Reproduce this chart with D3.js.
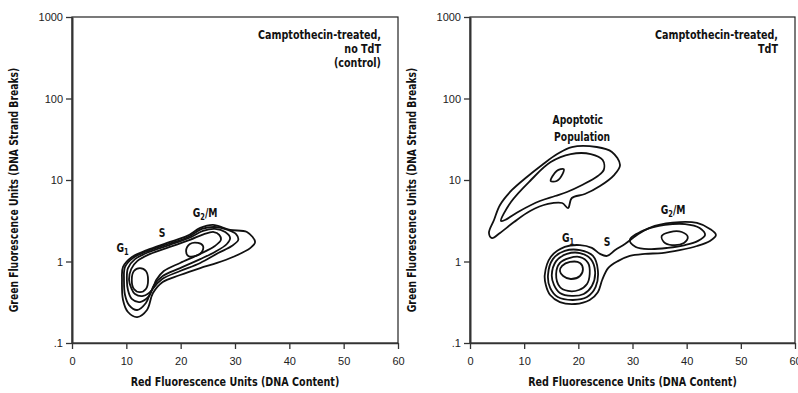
<!DOCTYPE html>
<html>
<head>
<meta charset="utf-8">
<script src="https://cdn.jsdelivr.net/npm/d3@7"></script>
<style>
  body { margin: 0; background: #fff; }
  svg { display: block; }
  .tick text { font-family: "Liberation Sans", Arial, sans-serif; font-size: 11px; fill: #222; }
  .bold { font-family: "Liberation Sans Narrow", "DejaVu Sans Condensed", sans-serif; font-weight: bold; fill: #111; }
</style>
</head>
<body>
<svg id="chart" width="798" height="393"></svg>
<script>
// axes
const xTicks = [0, 10, 20, 30, 40, 50, 60];
const yTicks = [0.1, 1, 10, 100, 1000];
const yTickLabels = [".1", "1", "10", "100", "1000"];
const xTitle = "Red Fluorescence Units (DNA Content)";
const yTitle = "Green Fluorescence Units (DNA Strand Breaks)";

// left panel contours, [red, green]
const controlOuter = [[9.2,0.59],[9.39,0.857],[11.04,1.135],[13.8,1.38],[17.5,1.69],[21.2,2.06],[23.6,2.58],[25.95,2.81],[29.1,2.44],[32.2,2.3],[33.7,1.73],[32.8,1.46],[29.6,1.135],[26.7,0.96],[23.6,0.83],[19.9,0.683],[16.7,0.56],[14.9,0.41],[13.8,0.254],[12.0,0.208],[10.3,0.24],[9.39,0.337]];
const controlRing2 = [[9.57,0.593],[9.76,0.857],[11.2,1.1],[14.0,1.35],[17.7,1.64],[21.4,2.0],[23.9,2.51],[26.3,2.65],[28.7,2.44],[30.2,2.17],[30.6,1.84],[29.4,1.55],[26.9,1.27],[23.6,0.96],[19.9,0.764],[16.6,0.61],[14.7,0.447],[13.6,0.31],[12.0,0.254],[10.5,0.292],[9.76,0.388]];
const controlRing3 = [[10.1,0.593],[10.3,0.83],[11.6,1.07],[14.2,1.31],[17.9,1.59],[21.5,1.94],[24.1,2.37],[26.3,2.51],[28.2,2.3],[29.1,1.94],[28.5,1.64],[26.3,1.31],[23.6,1.07],[19.9,0.83],[16.7,0.664],[15.1,0.515],[14.2,0.378],[12.5,0.318],[11.0,0.347],[10.3,0.447]];
const controlRing4 = [[10.5,0.593],[10.9,0.809],[12.0,1.01],[14.4,1.24],[18.0,1.51],[21.7,1.84],[24.3,2.17],[26.1,2.3],[27.1,2.12],[27.4,1.84],[26.3,1.55],[23.6,1.24],[19.9,0.96],[16.9,0.764],[15.5,0.593],[14.7,0.447],[13.1,0.378],[11.6,0.399],[10.9,0.473]];
const controlG1Core = [[12.5,0.83],[13.6,0.764],[14.0,0.593],[13.6,0.46],[12.5,0.42],[11.4,0.46],[11.0,0.593],[11.4,0.764]];
const controlG2Core = [[21.7,1.64],[23.2,1.69],[24.1,1.55],[23.9,1.31],[22.8,1.17],[21.4,1.17],[21.0,1.35]];

// right panel contours
const tdtApoOuter = [[3.5,2.24],[4.43,3.23],[5.54,4.94],[7.75,7.54],[10.5,10.9],[13.3,15.3],[16.1,20.8],[18.8,25.4],[23.4,25.4],[26.2,22.1],[27.7,15.3],[26.6,11.5],[24.0,8.44],[21.2,6.73],[18.8,6.01],[18.1,4.53],[17.0,5.22],[14.4,5.08],[11.1,4.17],[8.12,3.05],[5.54,2.24],[4.06,1.94]];
const tdtApoInner = [[5.72,3.14],[7.56,5.37],[11.25,10],[14.9,16.6],[18.6,20.8],[22.3,20.8],[24.5,17.6],[24.7,13.3],[23.6,11.2],[20.7,8.69],[17.9,7.13],[15.7,6.36],[12.9,5.52],[9.2,4.17],[6.46,3.23]];
const tdtApoCore = [[14.9,9.72],[16.0,12.9],[17.3,13.6],[17.1,11.9],[16.0,9.72]];
const tdtOuter = [[13.8,0.683],[14.9,1.135],[17.5,1.51],[20.3,1.59],[22.5,1.47],[24.0,1.24],[25.3,1.17],[26.8,1.38],[28.6,1.64],[31.4,2.24],[34.1,2.73],[38.7,3.05],[41.9,2.97],[44.3,2.51],[45.4,2.12],[44.3,1.79],[41.9,1.55],[38.7,1.38],[35.4,1.27],[32.3,1.24],[29.5,1.17],[27.3,1.01],[25.5,0.83],[24.4,0.593],[23.6,0.42],[22.1,0.337],[19.4,0.301],[16.6,0.318],[14.8,0.388],[14.0,0.515]];
const tdtG1Ring2 = [[14.4,0.683],[15.3,1.07],[17.5,1.35],[20.3,1.38],[22.7,1.17],[23.6,0.787],[23.2,0.487],[21.6,0.366],[19.0,0.337],[16.2,0.366],[14.8,0.473]];
const tdtG1Ring3 = [[15.1,0.683],[15.9,1.01],[17.9,1.24],[20.3,1.27],[22.3,1.07],[23.1,0.743],[22.5,0.5],[21.0,0.4],[18.8,0.378],[16.6,0.41],[15.5,0.515]];
const tdtG1Ring4 = [[15.9,0.703],[16.6,0.96],[18.3,1.1],[20.3,1.135],[21.8,0.96],[22.1,0.703],[21.6,0.53],[20.1,0.447],[18.1,0.435],[16.6,0.487]];
const tdtG1Core = [[17.0,0.881],[18.45,0.987],[20.3,0.96],[20.85,0.809],[20.3,0.664],[18.6,0.61],[17.2,0.664],[16.6,0.764]];
const tdtG2Ring2 = [[29.5,1.84],[32.3,2.44],[36.0,2.81],[39.7,2.88],[42.4,2.58],[43.4,2.12],[42.1,1.79],[39.7,1.59],[36.5,1.47],[33.2,1.42],[30.6,1.51]];
const tdtG2Core = [[35.4,2.06],[36.9,2.3],[39.1,2.3],[40.2,2.0],[39.5,1.69],[37.3,1.59],[35.8,1.73]];

// phase labels: [text, subscript, rest, red, green]
const controlLabels = [["G", "1", "", 9.3, 1.47], ["S", "", "", 16.6, 2.24], ["G", "2", "/M", 24.5, 3.94]];
const tdtLabels = [["G", "1", "", 18.1, 1.94], ["S", "", "", 25.3, 1.73], ["G", "2", "/M", 37.5, 4.29],
                   ["Apoptotic", "", "", 19.9, 54], ["Population", "", "", 20.7, 34]];
const controlNote = ["Camptothecin-treated,", "no TdT", "(control)"];
const tdtNote = ["Camptothecin-treated,", "TdT"];

const panels = [
  { left: 72, right: 398, rings: [controlOuter, controlRing2, controlRing3, controlRing4, controlG1Core, controlG2Core], labels: controlLabels, note: controlNote },
  { left: 470, right: 795, rings: [tdtApoOuter, tdtApoInner, tdtApoCore, tdtOuter, tdtG1Ring2, tdtG1Ring3, tdtG1Ring4, tdtG1Core, tdtG2Ring2, tdtG2Core], labels: tdtLabels, note: tdtNote },
];

const svg = d3.select("#chart");
const plotTop = 17, plotBottom = 343;
const squeeze = 0.82; // the original uses a condensed heavy face

panels.forEach((p) => {
  const x = d3.scaleLinear().domain([0, 60]).range([p.left, p.right]);
  const y = d3.scaleLog().domain([0.1, 1000]).range([plotBottom, plotTop]);
  const g = svg.append("g");

  // frame
  g.append("rect")
    .attr("x", p.left).attr("y", plotTop)
    .attr("width", p.right - p.left).attr("height", plotBottom - plotTop)
    .attr("fill", "none").attr("stroke", "#222").attr("stroke-width", 1.2);

  const yAxis = g.append("g")
    .attr("transform", `translate(${p.left},0)`)
    .call(d3.axisLeft(y).tickValues(yTicks).tickFormat((d, i) => yTickLabels[i]).tickSize(6).tickSizeOuter(0).tickPadding(3));
  yAxis.select(".domain").attr("stroke", "#333").attr("stroke-width", 2);
  yAxis.selectAll(".tick line").attr("stroke", "#333").attr("stroke-width", 1.3);

  const xAxis = g.append("g")
    .attr("transform", `translate(0,${plotBottom})`)
    .call(d3.axisBottom(x).tickValues(xTicks).tickSize(6).tickSizeOuter(0).tickPadding(8));
  xAxis.select(".domain").attr("stroke", "#333").attr("stroke-width", 1.6);
  xAxis.selectAll(".tick line").attr("stroke", "#333").attr("stroke-width", 1.3);

  // titles
  g.append("text").attr("class", "bold")
    .attr("transform", `translate(${(p.left + p.right) / 2},386) scale(${squeeze},1)`)
    .attr("text-anchor", "middle").attr("font-size", 13)
    .text(xTitle);
  g.append("text").attr("class", "bold")
    .attr("transform", `translate(${p.left - 54},${(plotTop + plotBottom) / 2 + 10}) rotate(-90) scale(${squeeze},1)`)
    .attr("text-anchor", "middle").attr("font-size", 12.5)
    .text(yTitle);

  // note in upper right
  g.append("g")
    .attr("transform", `translate(${p.right - 17},0) scale(${squeeze},1)`)
    .append("text").attr("class", "bold")
    .attr("text-anchor", "end").attr("font-size", 13)
    .selectAll("tspan").data(p.note).join("tspan")
    .attr("x", 0)
    .attr("y", (d, i) => 39 + i * 14)
    .text((d) => d);

  // contours
  const line = d3.line()
    .x((d) => x(d[0]))
    .y((d) => y(d[1]))
    .curve(d3.curveCatmullRomClosed.alpha(0.5));
  g.append("g").selectAll("path").data(p.rings).join("path")
    .attr("d", line)
    .attr("fill", "none")
    .attr("stroke", "#111")
    .attr("stroke-width", 1.8)
    .attr("stroke-linejoin", "round");

  // phase labels
  const lab = g.append("g").selectAll("text").data(p.labels).join("text")
    .attr("class", "bold")
    .attr("transform", (d) => `translate(${x(d[3])},${y(d[4]) + 4}) scale(${squeeze},1)`)
    .attr("text-anchor", "middle")
    .attr("font-size", 12.5);
  lab.append("tspan").text((d) => d[0]);
  lab.filter((d) => d[1]).append("tspan").attr("font-size", 9).attr("dy", 3).text((d) => d[1]);
  lab.filter((d) => d[2]).append("tspan").attr("dy", -3).text((d) => d[2]);
});
</script>
</body>
</html>
